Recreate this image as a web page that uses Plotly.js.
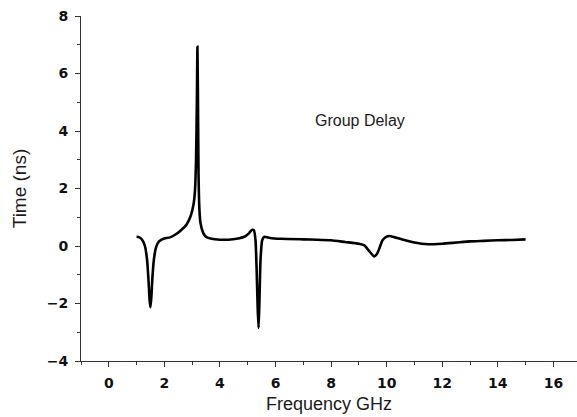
<!DOCTYPE html>
<html>
<head>
<meta charset="utf-8">
<script src="https://cdn.plot.ly/plotly-3.0.1.min.js"></script>
<style>html,body{margin:0;padding:0;background:#fff;}#chart{width:577px;height:417px;}</style>
</head>
<body>
<div id="chart"></div>
<script>
const freqGHz = [1.0,1.1,1.2,1.3,1.38,1.43,1.47,1.5,1.53,1.57,1.62,1.7,1.8,1.9,2.0,2.2,2.4,2.6,2.8,2.95,3.05,3.1,3.14,3.17,3.19,3.21,3.23,3.26,3.3,3.4,3.5,3.7,4.0,4.3,4.6,4.9,5.05,5.15,5.22,5.28,5.32,5.36,5.39,5.42,5.46,5.52,5.6,5.8,6.2,7.0,7.5,8.0,8.5,9.0,9.2,9.35,9.55,9.65,9.75,9.85,9.98,10.1,10.3,10.6,11.0,11.5,12.0,12.5,13.0,13.5,14.0,14.5,15.0];
const delayNs = [0.32,0.30,0.22,0.0,-0.5,-1.2,-1.9,-2.13,-1.8,-1.1,-0.5,-0.05,0.15,0.22,0.26,0.30,0.40,0.55,0.75,1.05,1.45,1.9,3.0,5.0,6.93,5.0,2.5,1.3,0.8,0.45,0.32,0.25,0.22,0.22,0.25,0.33,0.45,0.56,0.55,0.2,-0.8,-2.2,-2.85,-2.0,-0.5,0.2,0.32,0.28,0.25,0.23,0.22,0.20,0.14,0.08,0.02,-0.15,-0.36,-0.28,-0.05,0.2,0.32,0.35,0.30,0.22,0.12,0.06,0.08,0.12,0.16,0.18,0.20,0.21,0.23];
const xTickVals = [0,2,4,6,8,10,12,14,16];
const yTickVals = [-4,-2,0,2,4,6,8];
const labelText = "Group Delay";

const tickFont = {family:"DejaVu Sans", size:14, color:"#111", weight:"bold"};
const xTitleFont = {family:"Arial, 'Liberation Sans', sans-serif", size:18, color:"#1a1a1a"};
const yTitleFont = {family:"Arial, 'Liberation Sans', sans-serif", size:19, color:"#1a1a1a"};

Plotly.newPlot("chart", [{
  x: freqGHz, y: delayNs, type: "scatter", mode: "lines",
  line: {color:"#000", width:2.6, shape:"spline", smoothing:0.5},
  hoverinfo: "skip"
}], {
  width: 577, height: 417,
  margin: {l:81, r:0, t:16, b:56},
  paper_bgcolor: "#fff", plot_bgcolor: "#fff",
  showlegend: false,
  xaxis: {
    range: [-1, 16.85], tickvals: xTickVals, ticks: "outside", ticklen: 5, tickwidth: 1,
    tickcolor: "#333", showline: true, linecolor: "#333", linewidth: 1, showgrid: false, zeroline: false,
    tickfont: tickFont, ticklabelstandoff: 4,
    minor: {dtick: 1, tick0: 0, ticks: "outside", ticklen: 3, tickcolor: "#333", showgrid: false},
    title: {text: "Frequency GHz", font: xTitleFont, standoff: 7}
  },
  yaxis: {
    range: [-4, 8], tickvals: yTickVals, ticks: "outside", ticklen: 5, tickwidth: 1,
    tickcolor: "#333", showline: true, linecolor: "#333", linewidth: 1, showgrid: false, zeroline: false,
    tickfont: tickFont, ticklabelstandoff: 4,
    minor: {dtick: 1, tick0: 0, ticks: "outside", ticklen: 3, tickcolor: "#333", showgrid: false},
    title: {text: "Time (ns)", font: yTitleFont, standoff: 15}
  },
  annotations: [{
    x: 9.03, y: 4.35, xref: "x", yref: "y", text: labelText, showarrow: false,
    font: {family:"Arial, 'Liberation Sans', sans-serif", size:16, color:"#1a1a1a"}
  }]
}, {staticPlot: true});
</script>
</body>
</html>
